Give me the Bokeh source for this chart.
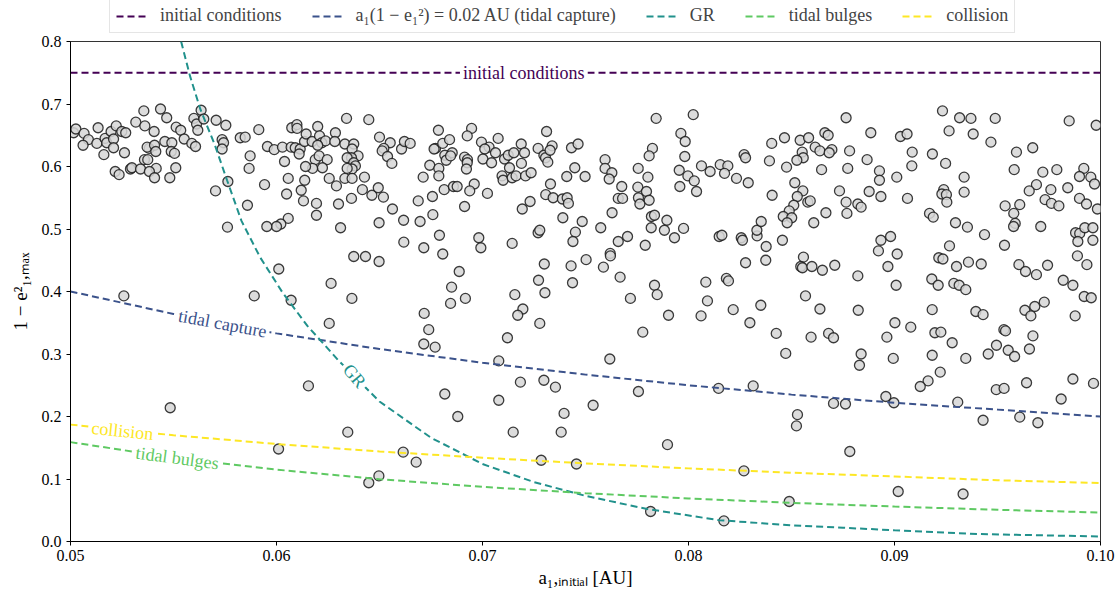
from bokeh.plotting import figure
from bokeh.layouts import column
from bokeh.models import Range1d, FixedTicker, PrintfTickFormatter, Legend, LegendItem
from bokeh.embed import file_html
from bokeh.resources import INLINE
from bokeh.core.properties import value

FONT = "Liberation Serif"

# ---------------- scatter data (a_1,initial [AU], 1 - e^2_1,max) ----------------
x_r1 = [0.05015,0.05026,0.05066,0.05087,0.05061,0.05128,0.05134,0.05162,0.05168,0.05176,
        0.05197,0.05209,0.05209,0.05222,0.05249,0.05268,0.05262,0.05217,0.05236,0.05291,
        0.05298,0.05317,0.05356,0.05361,0.05406,0.05340,0.05359,0.05375,0.05382,0.05372,
        0.05408,0.05414,0.05416,0.05383,0.05408,0.05437,0.05467,0.05458,0.05492,0.05489,
        0.05505,0.05511,0.05482,0.05513,0.05535,0.05552,0.05589,0.05607,0.05599,0.05612,
        0.05618,0.05634,0.05647,0.05707,0.05754,0.05736,0.05743,0.05736,0.05764,0.05704,
        0.05824,0.05848,0.05872,0.05867,0.05859,0.05762,0.05914,0.05956,0.05989,0.05942,
        0.06039,0.06057,0.06049,0.06029,0.06074,0.06099,0.06100,0.06071,0.06091,0.06115,
        0.06110,0.06136,0.06144,0.06173,0.06200,0.06209,0.06220,0.06238,0.06200,0.06188,
        0.06207,0.06246,0.06223,0.06175,0.06141,0.06120,0.06137,0.06131,0.06194,0.06194,
        0.06057,0.06021,0.06000,0.05953,0.06011,0.06256,
        0.05259,0.05892,0.06071,0.06256,0.06155,0.05484,0.06010]
y_r1 = [0.654,0.660,0.653,0.643,0.634,0.637,0.662,0.619,0.645,0.638,
        0.656,0.644,0.630,0.665,0.656,0.654,0.622,0.592,0.587,0.596,
        0.598,0.671,0.689,0.665,0.656,0.596,0.611,0.611,0.629,0.631,
        0.634,0.624,0.597,0.592,0.582,0.692,0.678,0.640,0.638,0.624,
        0.621,0.598,0.582,0.663,0.658,0.644,0.637,0.632,0.677,0.668,
        0.658,0.690,0.676,0.674,0.666,0.643,0.638,0.628,0.576,0.561,
        0.646,0.647,0.617,0.597,0.538,0.503,0.659,0.632,0.627,0.571,
        0.608,0.581,0.556,0.631,0.662,0.667,0.661,0.631,0.630,0.628,
        0.620,0.640,0.652,0.640,0.664,0.649,0.638,0.641,0.634,0.611,
        0.617,0.611,0.598,0.597,0.600,0.562,0.578,0.545,0.541,0.522,
        0.517,0.508,0.504,0.504,0.436,0.581,
        0.393,0.393,0.386,0.349,0.249,0.214,0.148]

x_r2 = [0.06340,0.06448,0.06286,0.06283,0.06332,0.06375,0.06367,0.06396,0.06364,0.06343,
        0.06375,0.06383,0.06367,0.06343,0.06332,0.06367,0.06291,0.06427,0.06417,0.06463,
        0.06494,0.06519,0.06364,0.06301,0.06311,0.06500,0.06552,0.06521,0.06513,0.06539,
        0.06560,0.06607,0.06621,0.06649,0.06712,0.06744,0.06788,0.06788,0.06772,0.06765,
        0.06786,0.06807,0.06840,0.06817,0.06824,0.06853,0.06845,0.06814,0.06859,0.06877,
        0.06688,0.06757,0.06759,0.06697,0.06617,0.06563,0.06498,0.06618,0.06715,0.06791,
        0.06807,0.06375,0.06432,0.06498,0.06265,0.06850,0.06887,0.06947,0.06926,0.06913,
        0.06927,0.06926,0.06922,0.06960,0.06938,0.06913,0.07024,0.06995,0.07032,0.07011,
        0.07063,0.07076,0.07002,0.07044,0.07107,0.07125,0.07152,0.07188,0.07204,0.07131,
        0.07189,0.07095,0.07100,0.07144,0.07163,0.07209,0.07236,0.06982,0.06992,0.07144,
        0.07193,0.07231,0.07270,0.07278,0.07311,0.07270,0.07298,0.07306,0.07317,0.07338,
        0.07328,0.07432,0.07464,0.07448,0.07409,0.07498,0.07330,0.07307,0.07343,0.07388,
        0.07411,0.07417,0.07390,0.07484,0.07451,0.07439,0.07503,0.07300,0.07430,0.07272,
        0.07437]
y_r2 = [0.677,0.675,0.654,0.640,0.636,0.636,0.628,0.617,0.614,0.614,
        0.606,0.601,0.596,0.597,0.581,0.581,0.569,0.583,0.563,0.554,
        0.566,0.551,0.549,0.540,0.502,0.647,0.638,0.629,0.625,0.616,
        0.605,0.628,0.640,0.637,0.583,0.602,0.597,0.585,0.629,0.628,
        0.658,0.637,0.643,0.618,0.610,0.622,0.617,0.563,0.568,0.568,
        0.545,0.552,0.523,0.512,0.514,0.532,0.510,0.479,0.470,0.490,
        0.460,0.456,0.456,0.448,0.413,0.407,0.432,0.661,0.649,0.615,
        0.611,0.606,0.596,0.572,0.561,0.536,0.557,0.639,0.631,0.628,
        0.622,0.645,0.612,0.606,0.612,0.618,0.622,0.636,0.622,0.598,
        0.605,0.585,0.578,0.582,0.585,0.585,0.590,0.486,0.470,0.477,
        0.532,0.544,0.494,0.498,0.656,0.629,0.618,0.614,0.607,0.633,
        0.626,0.630,0.636,0.598,0.584,0.584,0.572,0.555,0.550,0.548,
        0.550,0.541,0.518,0.512,0.495,0.480,0.451,0.444,0.441,0.418,
        0.414]

x_r3 = [0.06366,0.06717,0.06739,0.06715,0.06770,0.06845,0.06917,0.07157,0.07196,0.07171,
        0.07303,0.07278,0.07121,0.07079,0.07184,0.07298,0.07354,0.06817,0.07079,0.06880,
        0.07396,0.06346,0.07149,0.07382,0.06615,0.06678,0.06497,0.06448,0.07285,0.07456]
y_r3 = [0.389,0.365,0.339,0.316,0.311,0.381,0.389,0.395,0.372,0.362,
        0.398,0.349,0.326,0.289,0.255,0.258,0.247,0.236,0.226,0.200,
        0.205,0.175,0.175,0.175,0.143,0.127,0.105,0.094,0.130,0.124]

x_r4 = [0.07843,0.08023,0.07963,0.07984,0.07825,0.07809,0.07982,0.07595,0.07595,0.07628,
        0.07615,0.07676,0.07659,0.07680,0.07756,0.07803,0.07754,0.07796,0.07757,0.07764,
        0.07809,0.07955,0.07997,0.08028,0.08039,0.07958,0.08063,0.08105,0.08154,0.08191,
        0.08175,0.08233,0.08290,0.08270,0.08277,0.07629,0.07574,0.07659,0.07704,0.07820,
        0.07835,0.07895,0.07819,0.07883,0.07976,0.07932,0.07790,0.07620,0.07621,0.07587,
        0.07668,0.07835,0.08149,0.08162,0.08256,0.08262,0.08333,0.08332,0.08353,0.08377,
        0.08456,0.08277,0.08375,0.08084,0.08184,0.08194,0.08404,0.08466,0.08393,0.08476,
        0.08542,0.08583,0.08552,0.08557,0.08526,0.08615,0.08638,0.08662,0.08678,0.08696,
        0.08683,0.08646,0.08516,0.08555,0.08528,0.08579,0.08591,0.08511,0.08489,0.08460,
        0.08501,0.08479,0.08406,0.08608,0.08667,0.08733,0.08558,0.08545,0.08553,0.08599,
        0.08650,0.08710]
y_r4 = [0.677,0.683,0.653,0.640,0.629,0.617,0.616,0.611,0.597,0.590,
        0.580,0.568,0.549,0.549,0.597,0.583,0.567,0.560,0.550,0.540,
        0.546,0.594,0.585,0.577,0.560,0.568,0.601,0.592,0.603,0.601,
        0.589,0.581,0.574,0.619,0.614,0.526,0.502,0.480,0.488,0.520,
        0.522,0.514,0.502,0.498,0.501,0.486,0.474,0.461,0.457,0.439,
        0.423,0.410,0.488,0.490,0.486,0.482,0.489,0.498,0.512,0.472,
        0.482,0.446,0.450,0.415,0.421,0.417,0.637,0.646,0.609,0.599,
        0.642,0.646,0.623,0.614,0.610,0.631,0.625,0.654,0.650,0.627,
        0.622,0.595,0.574,0.561,0.552,0.543,0.545,0.538,0.529,0.520,
        0.518,0.510,0.554,0.510,0.526,0.561,0.455,0.440,0.438,0.440,
        0.434,0.442]

x_r5 = [0.07718,0.07848,0.07903,0.07778,0.07618,0.08092,0.08061,0.08217,0.08351,0.08298,
        0.08426,0.08568,0.08638,0.08595,0.08680,0.08704,0.08472,0.07757,0.07537,0.08146,
        0.08314,0.08704,0.08529,0.08524,0.07898,0.08269,0.08489,0.07816,0.08172]
y_r5 = [0.389,0.395,0.362,0.335,0.292,0.385,0.361,0.371,0.378,0.350,
        0.333,0.393,0.372,0.327,0.333,0.326,0.301,0.240,0.218,0.245,
        0.249,0.221,0.203,0.185,0.155,0.113,0.064,0.048,0.033]

x_r6 = [0.08765,0.08885,0.09029,0.09061,0.08782,0.08773,0.08867,0.08927,0.08927,0.08765,
        0.08769,0.08822,0.08838,0.08877,0.08934,0.09011,0.09086,0.09084,0.09063,0.09233,
        0.09316,0.09371,0.09489,0.09265,0.09382,0.09468,0.09184,0.09248,0.09338,0.09239,
        0.09230,0.09252,0.09254,0.09338,0.09170,0.09188,0.09296,0.09354,0.09437,0.09267,
        0.09215,0.09235,0.09301,0.09359,0.09421,0.09181,0.09212,0.09288,0.09314,0.09346,
        0.08934,0.08981,0.08922,0.09013,0.08968,0.08822,0.09008,0.09848,0.09979,0.09592,
        0.09671,0.09581,0.09720,0.09788,0.09919,0.09898,0.09953,0.09971,0.09689,0.09654,
        0.09759,0.09841,0.09731,0.09762,0.09798,0.09898,0.09932,0.09985,0.09537,0.09608,
        0.09579,0.09586,0.09578,0.09710,0.09534,0.09879,0.09899,0.09924,0.09963,0.09890,
        0.09963,0.09888,0.09934,0.09604,0.09636,0.09689,0.09743,0.09819,0.09866]
y_r6 = [0.678,0.654,0.648,0.652,0.625,0.597,0.611,0.593,0.578,0.543,
        0.525,0.540,0.535,0.560,0.552,0.583,0.623,0.601,0.549,0.689,
        0.678,0.677,0.677,0.657,0.652,0.639,0.620,0.605,0.583,0.563,
        0.556,0.555,0.543,0.559,0.525,0.519,0.510,0.503,0.491,0.473,
        0.454,0.452,0.440,0.447,0.444,0.420,0.410,0.413,0.410,0.403,
        0.482,0.488,0.465,0.460,0.440,0.425,0.410,0.673,0.666,0.623,
        0.630,0.595,0.591,0.595,0.597,0.584,0.583,0.572,0.571,0.561,
        0.563,0.566,0.547,0.541,0.537,0.549,0.540,0.532,0.537,0.539,
        0.525,0.509,0.504,0.504,0.474,0.494,0.493,0.502,0.502,0.480,
        0.482,0.457,0.443,0.443,0.432,0.427,0.442,0.418,0.410]

x_r7 = [0.08824,0.09002,0.08963,0.09079,0.09183,0.09196,0.09225,0.09280,0.08838,0.08830,
        0.08994,0.09183,0.09346,0.09395,0.09430,0.09531,0.09539,0.09495,0.09455,0.09552,
        0.09583,0.09633,0.09681,0.09662,0.09727,0.09672,0.09655,0.09921,0.09955,0.09877,
        0.09222,0.09163,0.09125,0.09494,0.09532,0.09641,0.09866,0.09966,0.09809,0.08762,
        0.08958,0.08997,0.09307,0.09430,0.09608,0.09696,0.08783,0.09018,0.09333]
y_r7 = [0.370,0.350,0.327,0.343,0.371,0.334,0.335,0.318,0.300,0.282,
        0.293,0.298,0.293,0.368,0.363,0.339,0.337,0.314,0.300,0.306,
        0.296,0.370,0.376,0.361,0.383,0.329,0.308,0.392,0.390,0.361,
        0.271,0.257,0.248,0.243,0.245,0.254,0.260,0.253,0.228,0.220,
        0.232,0.222,0.223,0.194,0.199,0.190,0.144,0.080,0.076]

a_initial = x_r1 + x_r2 + x_r3 + x_r4 + x_r5 + x_r6 + x_r7
ecc_max = y_r1 + y_r2 + y_r3 + y_r4 + y_r5 + y_r6 + y_r7

# ---------------- limit curves ----------------
init_x = [0.05, 0.10]
init_y = [0.75, 0.75]

curve_x = [0.050, 0.055, 0.060, 0.065, 0.070, 0.075, 0.080, 0.085, 0.090, 0.095, 0.100]
capture_y = [0.400, 0.364, 0.333, 0.308, 0.286, 0.267, 0.250, 0.235, 0.222, 0.211, 0.200]
collision_y = [0.187, 0.170, 0.156, 0.144, 0.134, 0.125, 0.117, 0.110, 0.104, 0.098, 0.0935]
bulges_y = [0.159, 0.134, 0.115, 0.0997, 0.0874, 0.0773, 0.0689, 0.0618, 0.0559, 0.0507, 0.0464]

gr_x = [0.05537, 0.0558, 0.0563, 0.0570, 0.0576, 0.0583, 0.0592, 0.0603, 0.0615, 0.0630,
        0.0650, 0.0675, 0.0700, 0.0725, 0.0750, 0.0780, 0.0815, 0.0850, 0.0875, 0.0900,
        0.0940, 0.1000]
gr_y = [0.800, 0.745, 0.692, 0.635, 0.578, 0.513, 0.455, 0.398, 0.345, 0.290,
        0.224, 0.166, 0.124, 0.095, 0.073, 0.052, 0.034, 0.026, 0.022, 0.018,
        0.012, 0.008]

x_ticks = [0.05, 0.06, 0.07, 0.08, 0.09, 0.10]
y_ticks = [0.0, 0.1, 0.2, 0.3, 0.4, 0.5, 0.6, 0.7, 0.8]

legend_labels = ["initial conditions",
                 "a\u2081(1 \u2212 e\u2081\u00b2) = 0.02 AU (tidal capture)",
                 "GR", "tidal bulges", "collision"]
COLORS = ["#440154", "#3b528b", "#21918c", "#5ec962", "#fde725"]
C_INIT, C_CAP, C_GR, C_BUL, C_COL = COLORS
DASH = "7 4"

# ---------------- main figure ----------------
p = figure(width=1117, height=556, x_range=Range1d(0.05, 0.10), y_range=Range1d(0.0, 0.8),
           output_backend="svg", toolbar_location=None,
           min_border_left=70, min_border_right=17, min_border_top=7, min_border_bottom=48)

p.scatter(a_initial, ecc_max, size=10, fill_color="#d6d6d6", fill_alpha=0.85,
          line_color="#1a1a1a", line_alpha=0.85, line_width=1.3)

p.line(init_x, init_y, color=C_INIT, line_width=2, line_dash=DASH)
p.line(curve_x, capture_y, color=C_CAP, line_width=2, line_dash=DASH)
p.line(gr_x, gr_y, color=C_GR, line_width=2, line_dash=DASH)
p.line(curve_x, bulges_y, color=C_BUL, line_width=2, line_dash=DASH)
p.line(curve_x, collision_y, color=C_COL, line_width=2, line_dash=DASH)

def inline_label(x, y, txt, ang, col):
    p.text(x=[x], y=[y], text=[txt], angle=ang, text_color=col,
           text_font=value(FONT), text_font_size="18px", text_align="center",
           text_baseline="middle", background_fill_color="white", padding=3)

inline_label(0.0720, 0.75, "initial conditions", 0.0, C_INIT)
inline_label(0.05738, 0.3486, "tidal capture", -0.182, C_CAP)
inline_label(0.06379, 0.265, "GR", -0.87, C_GR)
inline_label(0.05252, 0.177, "collision", -0.103, C_COL)
inline_label(0.05518, 0.1335, "tidal bulges", -0.13, C_BUL)

p.xaxis.ticker = FixedTicker(ticks=x_ticks)
p.yaxis.ticker = FixedTicker(ticks=y_ticks)
p.xaxis.formatter = PrintfTickFormatter(format="%.2f")
p.yaxis.formatter = PrintfTickFormatter(format="%.1f")
for ax in (p.xaxis, p.yaxis):
    ax.major_tick_in = 0
    ax.major_tick_out = 4
    ax.minor_tick_line_color = None
    ax.axis_line_color = "black"
    ax.major_tick_line_color = "black"
    ax.major_label_text_font = FONT
    ax.major_label_text_font_size = "16px"
    ax.major_label_text_color = "black"
    ax.axis_label_text_font = FONT
    ax.axis_label_text_font_style = "normal"
    ax.axis_label_text_font_size = "19px"
    ax.axis_label_text_color = "black"

p.xaxis.axis_label = "a\u2081,\u1d62\u2099\u1d62\u209c\u1d62\u2090\u2097 [AU]"
p.yaxis.axis_label = "1 \u2212 e\u00b2\u2081,\u2098\u2090\u2093"
p.xaxis.major_label_standoff = 4
p.xaxis.axis_label_standoff = 3
p.yaxis.axis_label_standoff = 8

p.xgrid.visible = False
p.ygrid.visible = False
p.outline_line_color = "#333333"
p.outline_line_width = 1

# ---------------- legend strip above the axes ----------------
lg = figure(width=1117, height=34, x_range=Range1d(0, 1), y_range=Range1d(0, 1),
            output_backend="svg", toolbar_location=None, x_axis_type=None, y_axis_type=None,
            min_border_left=0, min_border_right=0, min_border_top=0, min_border_bottom=0)
lg.outline_line_color = None
lg.xgrid.visible = False
lg.ygrid.visible = False
items = []
for lab, col in zip(legend_labels, COLORS):
    r = lg.line(x=[2, 3], y=[2, 3], color=col, line_width=2, line_dash=DASH)
    items.append(LegendItem(label=lab, renderers=[r]))
legend = Legend(items=items, orientation="horizontal", location=(39, 1))
legend.label_text_font = FONT
legend.label_text_font_size = "18px"
legend.label_height = 18
legend.glyph_width = 30
legend.glyph_height = 18
legend.label_standoff = 14
legend.spacing = 30
legend.padding = 6
legend.margin = 0
legend.border_line_color = "#cccccc"
legend.border_line_width = 1
legend.background_fill_alpha = 1.0
lg.add_layout(legend)

layout = column(lg, p, spacing=0)
open("out.html", "w").write(file_html(layout, INLINE))
